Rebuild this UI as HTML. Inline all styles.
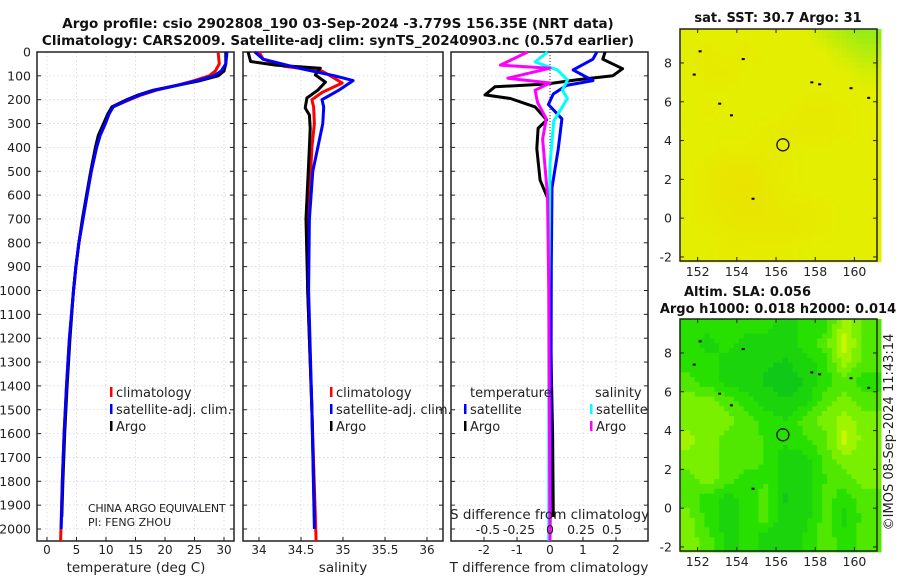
<!DOCTYPE html>
<html><head><meta charset="utf-8"><style>
body{margin:0;background:#fff;}
svg text{font-family:"DejaVu Sans","Liberation Sans",sans-serif;}
</style></head><body>
<svg id="fig" width="900" height="580" xmlns="http://www.w3.org/2000/svg"></svg>
<script>
// ---------- data ----------
const depthTicks=[0,100,200,300,400,500,600,700,800,900,1000,1100,1200,1300,1400,1500,1600,1700,1800,1900,2000];
const tempTicks=[0,5,10,15,20,25,30];
const salTicks=[34,34.5,35,35.5,36];
const salTickLabels=["34","34.5","35","35.5","36"];
const tdiffTicks=[-2,-1,0,1,2];
const sdiffTicks=[-0.5,-0.25,0,0.25,0.5];
const sdiffTickLabels=["-0.5","-0.25","0","0.25","0.5"];
// temperature profiles [depth, value]
const tempArgo=[[0,30.3],[50,30.3],[80,30.0],[100,29.0],[120,26],[140,22],[160,18],[180,15.5],[200,13.5],[230,11],[260,10.3],[300,9.6],[350,8.7],[400,8.2],[500,7.4],[600,6.7],[700,6.0],[800,5.4],[900,4.9],[1000,4.5],[1200,3.9],[1400,3.4],[1600,3.0],[1800,2.7],[1950,2.5]];
const tempClim=[[0,29.0],[50,29.2],[80,28.5],[100,27.5],[120,25],[140,22],[160,18.5],[180,16],[200,14],[230,11.2],[260,10.5],[300,9.9],[350,9.0],[400,8.4],[500,7.5],[600,6.8],[700,6.1],[800,5.4],[900,4.9],[1000,4.5],[1200,3.8],[1400,3.3],[1600,2.9],[1800,2.6],[2050,2.3]];
const tempSat=[[0,30.5],[50,30.3],[80,29.5],[100,28.3],[120,25.5],[140,22],[160,18.3],[180,15.8],[200,13.8],[230,11.2],[260,10.5],[300,9.9],[350,9.0],[400,8.4],[500,7.5],[600,6.8],[700,6.1],[800,5.4],[900,4.9],[1000,4.5],[1200,3.8],[1400,3.3],[1600,2.9],[1800,2.6],[2000,2.4]];
// salinity profiles
const salArgo=[[0,33.87],[40,33.9],[55,34.2],[68,34.73],[96,34.67],[126,34.79],[160,34.7],[193,34.57],[235,34.55],[264,34.6],[320,34.61],[400,34.6],[700,34.56],[1000,34.58],[1500,34.63],[1950,34.66]];
const salClim=[[0,34.0],[30,34.05],[60,34.3],[80,34.75],[100,34.85],[130,34.99],[170,34.75],[200,34.63],[230,34.65],[300,34.66],[400,34.63],[600,34.6],[1000,34.58],[1500,34.63],[2050,34.68]];
const salSat=[[0,33.95],[30,34.05],[70,34.5],[100,34.9],[120,35.12],[160,34.95],[200,34.75],[230,34.77],[300,34.76],[400,34.7],[500,34.64],[700,34.6],[1000,34.59],[1500,34.63],[2000,34.66]];
// differences
const tdiffArgo=[[0,1.67],[30,1.6],[70,2.2],[100,1.9],[117,0.8],[134,-0.1],[146,-1.67],[180,-1.97],[195,-1.2],[230,-0.45],[285,-0.1],[320,-0.36],[405,-0.4],[537,-0.3],[620,-0.05],[800,0.0],[1000,0.0],[1400,0.05],[1600,0.08],[1950,0.1]];
const tdiffSat=[[0,1.42],[30,1.3],[75,0.7],[120,1.3],[140,0.5],[176,0.1],[220,-0.05],[280,0.36],[405,0.25],[570,0.06],[900,0.04],[1500,0.03],[2050,0.0]];
const sdiffArgo=[[0,-0.18],[55,-0.4],[68,0.0],[110,-0.34],[130,0.0],[160,-0.12],[212,-0.1],[280,-0.03],[365,-0.06],[600,-0.02],[1000,-0.01],[2050,0.0]];
const sdiffSat=[[0,-0.02],[42,-0.12],[75,0.06],[117,0.14],[160,0.1],[195,0.14],[290,0.03],[470,0.0],[1000,-0.01],[2050,-0.01]];
// maps
const lonTicks=[152,154,156,158,160];
const latTicks=[-2,0,2,4,6,8];
const argoLon=156.35, argoLat=3.78;
const slaGrid=[
[1,1,1,1,1,0.5,1,1,2.5,1.5],
[1,0.5,1,0.5,0.5,0.5,1,1.5,3,1.5],
[1,1,0.5,0.5,0.3,0.2,0.5,1,2.5,1.5],
[1.5,1,0.5,0.5,0.2,0,0.3,1,1.5,1],
[2,2,1.5,1,0.5,0.3,0.5,1.5,2,1.5],
[2,2,2,1.5,1,0.8,1.5,2,2.5,2],
[2.5,2,1.5,1.5,1.2,1,1.2,1.5,3,2],
[2,2,1.5,1.5,1.2,0.3,0.5,1.5,2,2],
[1.5,2,1.5,1,1.2,0.3,0.5,1.2,1.5,2],
[1.5,1,0.5,1,1.5,0.2,0.5,1.5,1,1.5],
[2,1,0.5,1,1.5,0.3,0.5,1.5,0.5,1.5],
[2,1.5,0.5,1,0.5,0.3,0.8,1.5,1,1.5]];
const sstGrid=[
[1,1,1,1,1,1,1,1.4,1.7,2],
[1,0.8,1,0.8,1,1,1,1,1.3,1.6],
[1,0.8,0.8,1,1,1,1,1,1,1.2],
[1,1,1,1,1,1,1,1,1,1],
[1,0.9,1,1,1,1,0.8,0.8,0.9,1],
[1,1,1,1,0.9,0.8,0.8,0.8,0.9,1],
[1,1,0.9,0.9,0.9,0.9,1,1,1,1],
[1,0.8,0.6,0.6,0.8,0.9,1,1,1,1],
[1,0.8,0.6,0.5,0.7,0.9,1,1,1,1],
[1,0.8,0.7,0.6,0.7,0.8,0.8,0.9,1,1],
[1,0.9,0.8,0.7,0.7,0.7,0.8,0.9,1,1],
[1,1,0.9,0.9,0.9,0.9,1,1,1,1]];

// ---------- helpers ----------
const NS="http://www.w3.org/2000/svg";
const svg=document.getElementById('fig');
function mk(tag,attrs,parent){const e=document.createElementNS(NS,tag);for(const k in attrs)e.setAttribute(k,attrs[k]);(parent||svg).appendChild(e);return e;}
function txt(s,x,y,opts,parent){const e=mk('text',Object.assign({x:x,y:y,'font-size':12,fill:'#222'},opts||{}),parent);e.textContent=s;return e;}
const Y0=52, DY=0.2385, YB=541;
function yD(d){return Y0+d*DY;}
const panels=[
 {name:'temperature-panel',x0:37,x1:234,fx:v=>47+v*5.9},
 {name:'salinity-panel',x0:243,x1:443,fx:v=>259+(v-34)*84},
 {name:'difference-panel',x0:451,x1:648,fx:v=>550+v*33}
];
const fS=v=>550+v*124;

// ---------- profile panels ----------
panels.forEach((p,i)=>{
 const g=mk('g',{});
 
 
 depthTicks.forEach(d=>{
  const l=mk('line',{x1:p.x0,x2:p.x1,y1:yD(d),y2:yD(d),stroke:'#cfd3ee','stroke-width':0.8,'stroke-dasharray':'1.5,2.5'},g);
  
  
  mk('line',{x1:p.x0,x2:p.x0+4,y1:yD(d),y2:yD(d),stroke:'#222'},g);
  mk('line',{x1:p.x1-4,x2:p.x1,y1:yD(d),y2:yD(d),stroke:'#222'},g);
 });
 const ticks=i==0?tempTicks:(i==1?salTicks:tdiffTicks);
 const labels=i==0?tempTicks.map(String):(i==1?salTickLabels:tdiffTicks.map(String));
 ticks.forEach((t,k)=>{
  const x=p.fx(t);
  const l=mk('line',{x1:x,x2:x,y1:Y0,y2:YB,stroke:'#e2d2c8','stroke-width':0.8,'stroke-dasharray':'1.5,2.5'},g);
  
  
  mk('line',{x1:x,x2:x,y1:YB,y2:YB-4,stroke:'#222'},g);
  const tl=txt(labels[k],x,554,{'text-anchor':'middle','font-size':12},g);
  
  
 });
 const fr=mk('rect',{x:p.x0,y:Y0,width:p.x1-p.x0,height:YB-Y0,fill:'none',stroke:'#222','stroke-width':1.5},g);
 
 
});
depthTicks.forEach(d=>{
 const t=txt(String(d),31,yD(d)+4.5,{'text-anchor':'end','font-size':12.5});
 
 
});
mk('line',{x1:550,x2:550,y1:Y0,y2:200,stroke:'#333','stroke-width':1,'stroke-dasharray':'1,2'});

function drawLine(data,fx,color,name,w){
 const pts=data.map(r=>fx(r[1]).toFixed(1)+','+yD(r[0]).toFixed(1)).join(' ');
 const pl=mk('polyline',{points:pts,fill:'none',stroke:color,'stroke-width':w||3,'stroke-linejoin':'round'});
 
 
}
const fT=panels[0].fx, fSal=panels[1].fx, fTd=panels[2].fx;
drawLine(tempClim,fT,'#ff0000','temp-climatology-line');
drawLine(tempArgo,fT,'#000','temp-argo-line');
drawLine(tempSat,fT,'#0000ff','temp-satellite-line');
drawLine(salClim,fSal,'#ff0000','sal-climatology-line');
drawLine(salArgo,fSal,'#000','sal-argo-line');
drawLine(salSat,fSal,'#0000ff','sal-satellite-line');
drawLine(tdiffArgo,fTd,'#000','tdiff-argo-line');
drawLine(tdiffSat,fTd,'#0000ff','tdiff-satellite-line');
drawLine(sdiffSat,fS,'#00ffff','sdiff-satellite-line');
drawLine(sdiffArgo,fS,'#ff00ff','sdiff-argo-line');

function legend(x,y,color,label,name){
 const g=mk('g',{});
 
 
 mk('rect',{x:x,y:y-10,width:2.5,height:10,fill:color},g);
 txt(label,x+6,y,{'font-size':13},g);
}
legend(110,397,'#ff0000','climatology','legend-climatology');
legend(110,414,'#0000ff','satellite-adj. clim.','legend-satellite-adj');
legend(110,431,'#000','Argo','legend-argo');
legend(330,397,'#ff0000','climatology','legend-sal-climatology');
legend(330,414,'#0000ff','satellite-adj. clim.','legend-sal-satellite-adj');
legend(330,431,'#000','Argo','legend-sal-argo');
txt('temperature',470,397,{'font-size':13});
legend(464,414,'#0000ff','satellite','legend-tdiff-satellite');
legend(464,431,'#000','Argo','legend-tdiff-argo');
txt('salinity',595,397,{'font-size':13});
legend(590,414,'#00ffff','satellite','legend-sdiff-satellite');
legend(590,431,'#ff00ff','Argo','legend-sdiff-argo');

txt('CHINA ARGO EQUIVALENT',88,512,{'font-size':11,'letter-spacing':'-0.3'});
txt('PI: FENG ZHOU',88,526,{'font-size':11});
txt('S difference from climatology',450,519,{'font-size':13.5});
sdiffTicks.forEach((t,k)=>{
 const e=txt(sdiffTickLabels[k],fS(t),534,{'text-anchor':'middle','font-size':12.5});
 
 
});
txt('temperature (deg C)',136,572,{'text-anchor':'middle','font-size':13.5});
txt('salinity',343,572,{'text-anchor':'middle','font-size':13.5});
txt('T difference from climatology',549,572,{'text-anchor':'middle','font-size':13.5});
txt('Argo profile: csio 2902808_190 03-Sep-2024 -3.779S 156.35E (NRT data)',338,28,{'text-anchor':'middle','font-size':13.5,'font-weight':'bold',fill:'#111'});
txt('Climatology: CARS2009. Satellite-adj clim: synTS_20240903.nc (0.57d earlier)',338,45,{'text-anchor':'middle','font-size':13.5,'font-weight':'bold',fill:'#111'});

// ---------- maps ----------
const MX0=680,MX1=877;
const fLon=v=>MX0+(v-151.1)*19.6;
function lerpColor(stops,v){
 v=Math.max(0,Math.min(stops.length-1,v));const i=Math.min(stops.length-2,Math.floor(v));const f=v-i;
 const a=stops[i],b=stops[i+1];
 return 'rgb('+a.map((c,k)=>Math.round(c+(b[k]-c)*f)).join(',')+')';
}
function sample(grid,lat,lon){
 let r=(9.5-lat),c=(lon-151.5);
 r=Math.max(0,Math.min(grid.length-1.001,r));c=Math.max(0,Math.min(grid[0].length-1.001,c));
 const r0=Math.floor(r),c0=Math.floor(c),fr=r-r0,fc=c-c0;
 return grid[r0][c0]*(1-fr)*(1-fc)+grid[r0][c0+1]*(1-fr)*fc+grid[r0+1][c0]*fr*(1-fc)+grid[r0+1][c0+1]*fr*fc;
}
function drawMap(top,bottom,grid,stops,name,quant){
 const fLat=v=>top+(9.75-v)*19.4;
 const g=mk('g',{});
 
 
 const step=0.25;
 for(let lat=9.75;lat>-2.2;lat-=step){
  for(let lon=151.1;lon<161.2;lon+=step){
   let v=sample(grid,lat-step/2,lon+step/2);
   if(quant) v=Math.round(v*2)/2;
   const x=fLon(lon),y=fLat(lat);
   mk('rect',{x:x.toFixed(1),y:y.toFixed(1),width:(step*19.6+0.6).toFixed(1),height:(step*19.4+0.6).toFixed(1),fill:lerpColor(stops,v)},g);
  }
 }
 const fr=mk('rect',{x:MX0,y:top,width:MX1-MX0,height:bottom-top,fill:'none',stroke:'#222','stroke-width':1.5},g);
 
 
 lonTicks.forEach(t=>{
  const x=fLon(t);
  mk('line',{x1:x,x2:x,y1:bottom,y2:bottom-4,stroke:'#222'},g);
  mk('line',{x1:x,x2:x,y1:top,y2:top+4,stroke:'#222'},g);
  const e=txt(String(t),x,bottom+15,{'text-anchor':'middle','font-size':12.5},g);
  
  
 });
 latTicks.forEach(t=>{
  const y=fLat(t);
  mk('line',{x1:MX0,x2:MX0+4,y1:y,y2:y,stroke:'#222'},g);
  mk('line',{x1:MX1-4,x2:MX1,y1:y,y2:y,stroke:'#222'},g);
  const e=txt(String(t),MX0-8,y+4.5,{'text-anchor':'end','font-size':12.5},g);
  
  
 });
 const c=mk('circle',{cx:fLon(argoLon),cy:fLat(argoLat),r:6,fill:'none',stroke:'#111','stroke-width':1.3},g);
 
 
 [[151.8,7.4],[152.1,8.6],[154.3,8.2],[158.2,6.9],[153.7,5.3],[153.1,5.9],[159.8,6.7],[160.7,6.2],[154.8,1.0],[157.8,7.0]].forEach(p=>{
  const s=mk('rect',{x:fLon(p[0])-1,y:fLat(p[1])-1,width:3,height:2,fill:'#000'},g);
  
  
 });
}
drawMap(29,261,sstGrid,[[240,214,0],[228,238,0],[150,236,20]],'sst-map',false);
drawMap(319,551,slaGrid,[[16,200,24],[40,224,0],[120,240,0],[200,248,0]],'sla-map',true);
txt('sat. SST: 30.7 Argo: 31',778,22,{'text-anchor':'middle','font-size':13,'font-weight':'bold',fill:'#111'});
txt('Altim. SLA: 0.056',684,296,{'font-size':13,'font-weight':'bold',fill:'#111'});
txt('Argo h1000: 0.018 h2000: 0.014',778,313,{'text-anchor':'middle','font-size':13,'font-weight':'bold',fill:'#111'});
const ts=txt('©IMOS 08-Sep-2024 11:43:14',0,0,{'text-anchor':'middle','font-size':13,transform:'translate(893,432) rotate(-90)'});


</script>
</body></html>
